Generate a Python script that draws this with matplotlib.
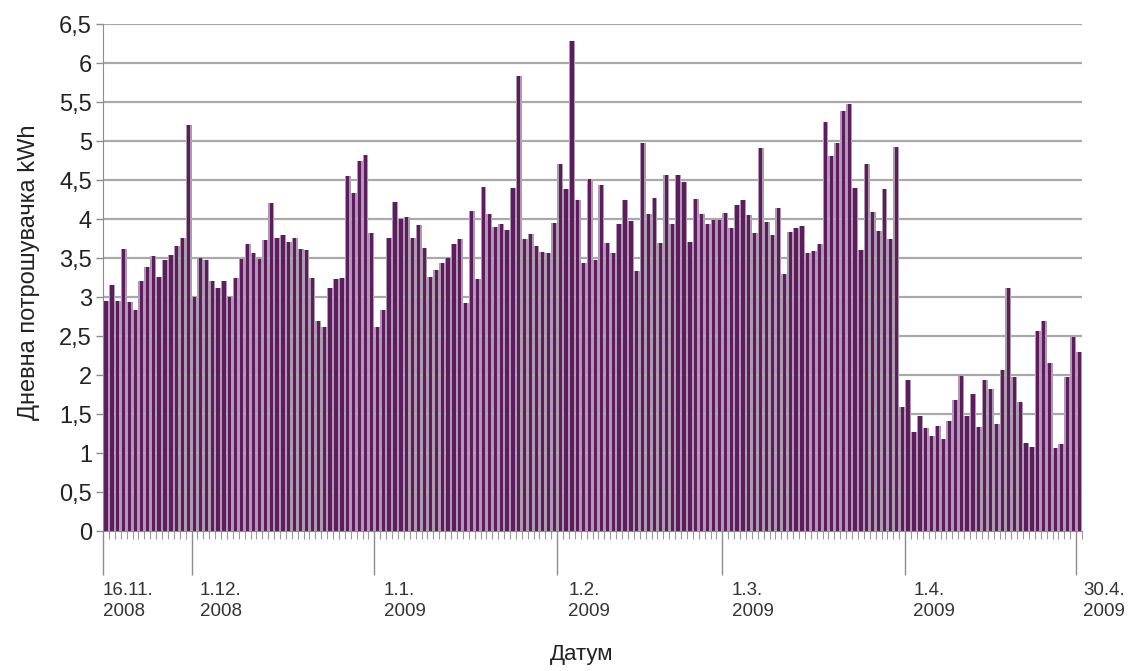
import matplotlib.pyplot as plt
import matplotlib.dates as mdates
import numpy as np
import pandas as pd

# daily consumption, kWh (16.11.2008 - 30.4.2009)
nov = [2.95, 3.15, 2.95, 3.62, 2.93, 2.83, 3.2, 3.38, 3.52, 3.26, 3.47, 3.54, 3.65, 3.76, 5.2]
dec = [3.0, 3.5, 3.47, 3.21, 3.12, 3.2, 3.0, 3.24, 3.49, 3.68, 3.56, 3.49, 3.73, 4.2, 3.76, 3.8,
       3.71, 3.76, 3.62, 3.6, 3.24, 2.69, 2.62, 3.12, 3.23, 3.25, 4.55, 4.34, 4.74, 4.82, 3.82]
jan = [2.61, 2.84, 3.76, 4.22, 4.0, 4.02, 3.76, 3.92, 3.63, 3.26, 3.35, 3.44, 3.5, 3.68, 3.74, 2.92,
       4.1, 3.23, 4.41, 4.06, 3.9, 3.94, 3.86, 4.4, 5.84, 3.75, 3.81, 3.65, 3.58, 3.56, 3.95]
feb = [4.71, 4.39, 6.28, 4.24, 3.43, 4.51, 3.47, 4.44, 3.69, 3.56, 3.94, 4.24, 3.98, 3.34, 4.97, 4.07,
       4.27, 3.69, 4.57, 3.94, 4.57, 4.48, 3.71, 4.26, 4.07, 3.94, 3.99, 3.99]
mar = [4.08, 3.89, 4.18, 4.24, 4.05, 3.82, 4.91, 3.96, 3.8, 4.14, 3.3, 3.84, 3.88, 3.91, 3.56, 3.59,
       3.68, 5.24, 4.81, 4.97, 5.38, 5.47, 4.4, 3.6, 4.7, 4.09, 3.85, 4.39, 3.74, 4.92, 1.59]
apr = [1.93, 1.27, 1.47, 1.32, 1.22, 1.35, 1.18, 1.41, 1.68, 1.99, 1.48, 1.76, 1.33, 1.94, 1.82,
       1.37, 2.06, 3.11, 1.98, 1.65, 1.13, 1.08, 2.56, 2.69, 2.15, 1.07, 1.12, 1.97, 2.49, 2.3]

tick_dates = ["2008-11-16", "2008-12-01", "2009-01-01", "2009-02-01",
              "2009-03-01", "2009-04-01", "2009-04-30"]
tick_labels = ["16.11.\n2008", "1.12.\n2008", "1.1.\n2009", "1.2.\n2009",
               "1.3.\n2009", "1.4.\n2009", "30.4.\n2009"]
yticks = np.arange(0, 6.51, 0.5)

if __name__ == "__main__":
    plt.rcParams["font.family"] = ["Liberation Sans", "DejaVu Sans"]

    days = pd.date_range("2008-11-16", "2009-04-30", freq="D")
    values = nov + dec + jan + feb + mar + apr
    x = days + pd.Timedelta(hours=12)

    fig = plt.figure(figsize=(11.3, 6.71), dpi=100)
    ax = fig.add_axes([0.0912, 0.2086, 0.8664, 0.7556])

    ax.bar(x, values, width=1.0, color="#ad9aaf", linewidth=0, zorder=1)
    ax.bar(x, values, width=0.55, color="#5e1b60", linewidth=0, zorder=2)

    ax.set_xlim(pd.Timestamp("2008-11-16"), pd.Timestamp("2009-05-01"))
    ax.set_ylim(0, 6.5)
    ax.set_yticks(yticks)
    ax.set_yticklabels([f"{v:g}".replace(".", ",") for v in yticks])

    ax.set_xticks(pd.to_datetime(tick_dates))
    ax.set_xticklabels([])
    ax.xaxis.set_minor_locator(mdates.DayLocator())
    ax.tick_params(axis="x", which="major", length=32, width=1, color="#8c8c8c")
    ax.tick_params(axis="x", which="minor", length=6, width=0.8, color="#9a9a9a")
    ax.tick_params(axis="y", length=5, width=1, color="#8c8c8c", pad=3,
                   labelsize=17, labelcolor="#222222")

    offsets = [0, 6, 7, 8, 7, 6, 5]
    for d, lab, dx in zip(pd.to_datetime(tick_dates), tick_labels, offsets):
        ax.annotate(lab, xy=(d, 0), xycoords=("data", "axes fraction"),
                    xytext=(dx, -37), textcoords="offset points",
                    ha="left", va="top", fontsize=13.5, linespacing=1.25,
                    color="#333333")

    ax.yaxis.grid(True, color="#a9a9a9", linewidth=1.6)
    ax.set_axisbelow("line")
    for side in ["top", "right"]:
        ax.spines[side].set_visible(False)
    for side in ["left", "bottom"]:
        ax.spines[side].set_color("#8c8c8c")

    ax.set_ylabel("Дневна потрошувачка kWh", fontsize=17, color="#222222")
    ax.yaxis.set_label_coords(-0.064, 0.51)
    ax.set_xlabel("Датум", fontsize=16, color="#222222")
    ax.xaxis.set_label_coords(0.489, -0.222)

    fig.savefig("out.png", dpi=100)
